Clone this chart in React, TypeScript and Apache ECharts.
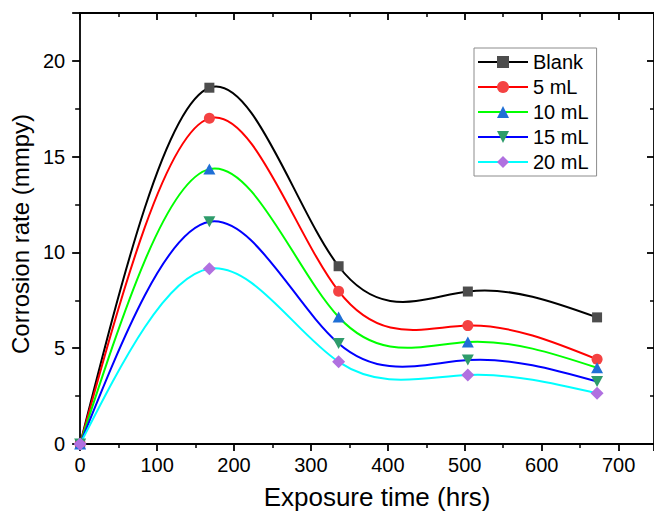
import React, { useEffect, useRef } from "react";
import * as echarts from "echarts";

// ---- data ----
const hours = [0, 168, 336, 504, 672];
const seriesNames = ["Blank", "5 mL", "10 mL", "15 mL", "20 mL"];
const blankRate = [0, 18.6, 9.28, 7.96, 6.61];
const rate5mL = [0, 17.0, 7.98, 6.18, 4.42];
const rate10mL = [0, 14.35, 6.63, 5.33, 3.98];
const rate15mL = [0, 11.6, 5.25, 4.38, 3.26];
const rate20mL = [0, 9.15, 4.29, 3.6, 2.65];
const xTickValues = [0, 100, 200, 300, 400, 500, 600, 700];
const yTickValues = [0, 5, 10, 15, 20];

// ---- styles ----
const lineColors = ["#000000", "#ff0000", "#00ff00", "#0000ff", "#00ffff"];
const markerColors = ["#4d4d4d", "#f44242", "#1f6fd6", "#2e9c6b", "#b070e0"];
const markerSymbols = ["rect", "circle", "triangle", "triangle", "diamond"];
const markerSizes: any[] = [10, 11, [12, 11], [12, 11], 13];
const markerRotates = [0, 0, 0, 180, 0];
const FONT = "'Liberation Sans', Arial, sans-serif";

const allRates = [blankRate, rate5mL, rate10mL, rate15mL, rate20mL];

// natural cubic spline slopes at the knots (used to draw the curve as bezier segments)
function splineSlopes(xs: number[], ys: number[]): number[] {
  const n = xs.length;
  const h: number[] = [];
  for (let i = 0; i < n - 1; i++) h.push(xs[i + 1] - xs[i]);
  const a = new Array(n).fill(0);
  const b = new Array(n).fill(0);
  const c = new Array(n).fill(0);
  const d = new Array(n).fill(0);
  b[0] = 1;
  b[n - 1] = 1;
  for (let i = 1; i < n - 1; i++) {
    a[i] = h[i - 1];
    b[i] = 2 * (h[i - 1] + h[i]);
    c[i] = h[i];
    d[i] = 6 * ((ys[i + 1] - ys[i]) / h[i] - (ys[i] - ys[i - 1]) / h[i - 1]);
  }
  for (let i = 1; i < n; i++) {
    const w = a[i] / b[i - 1];
    b[i] -= w * c[i - 1];
    d[i] -= w * d[i - 1];
  }
  const M = new Array(n).fill(0);
  M[n - 1] = d[n - 1] / b[n - 1];
  for (let i = n - 2; i >= 0; i--) M[i] = (d[i] - c[i] * M[i + 1]) / b[i];
  const s: number[] = [];
  for (let i = 0; i < n - 1; i++) {
    s.push((ys[i + 1] - ys[i]) / h[i] - (h[i] * (2 * M[i] + M[i + 1])) / 6);
  }
  s.push((ys[n - 1] - ys[n - 2]) / h[n - 2] + (h[n - 2] * (M[n - 2] + 2 * M[n - 1])) / 6);
  return s;
}

export default function App() {
  const ref = useRef<HTMLDivElement>(null);

  useEffect(() => {
    if (!ref.current) return;
    const chart = echarts.init(ref.current, undefined, { renderer: "svg" });

    const markerSeries = seriesNames.map((name, k) => ({
      type: "line",
      name,
      xAxisIndex: 0,
      yAxisIndex: 0,
      data: hours.map((h, i) => [h, allRates[k][i]]),
      symbol: markerSymbols[k],
      symbolSize: markerSizes[k],
      symbolRotate: markerRotates[k],
      showSymbol: true,
      itemStyle: { color: markerColors[k], opacity: 1 },
      lineStyle: { color: lineColors[k], width: 2, opacity: 0 },
      z: 4,
      emphasis: { disabled: true },
    }));

    const curveSeries = seriesNames.map((name, k) => {
      const ys = allRates[k];
      const slopes = splineSlopes(hours, ys);
      return {
        type: "custom",
        name,
        xAxisIndex: 0,
        yAxisIndex: 0,
        data: hours.map((h, i) => [h, ys[i]]),
        encode: { x: 0, y: 1 },
        z: 2,
        renderItem: (params: any, api: any) => {
          const i = params.dataIndex;
          if (i >= hours.length - 1) return { type: "group", children: [] };
          const x0 = hours[i];
          const x1 = hours[i + 1];
          const hh = x1 - x0;
          const p0 = api.coord([x0, ys[i]]);
          const p1 = api.coord([x1, ys[i + 1]]);
          const c1 = api.coord([x0 + hh / 3, ys[i] + (slopes[i] * hh) / 3]);
          const c2 = api.coord([x1 - hh / 3, ys[i + 1] - (slopes[i + 1] * hh) / 3]);
          return {
            type: "bezierCurve",
            shape: {
              x1: p0[0], y1: p0[1], x2: p1[0], y2: p1[1],
              cpx1: c1[0], cpy1: c1[1], cpx2: c2[0], cpy2: c2[1],
            },
            style: { stroke: lineColors[k], lineWidth: 2, fill: "none" },
          };
        },
      };
    });

    const axisLine = { show: true, onZero: false, lineStyle: { color: "#000", width: 1.8 } };
    const labelStyle = { fontSize: 20, color: "#000", fontFamily: FONT };

    chart.setOption({
      animation: false,
      backgroundColor: "#fff",
      grid: { left: 79, top: 13, width: 579, height: 433, containLabel: false },
      legend: {
        data: seriesNames,
        orient: "vertical",
        left: 474,
        top: 48,
        itemWidth: 50,
        itemHeight: 15,
        itemGap: 5,
        padding: [4, 8, 4, 3],
        borderColor: "#8c8c8c",
        borderWidth: 1,
        backgroundColor: "#fff",
        textStyle: { fontSize: 20, color: "#000", fontFamily: FONT, lineHeight: 20 },
        lineStyle: { opacity: 1, width: 2 },
        itemStyle: { opacity: 1 },
      },
      xAxis: [
        {
          type: "value",
          position: "bottom",
          min: xTickValues[0],
          max: 746,
          interval: xTickValues[1] - xTickValues[0],
          axisLine,
          axisTick: { show: true, inside: false, length: 7, lineStyle: { color: "#000", width: 1.8 } },
          minorTick: { show: true, splitNumber: 2, length: 4, lineStyle: { color: "#000", width: 1.5 } },
          axisLabel: { ...labelStyle, margin: 11, showMaxLabel: false },
          splitLine: { show: false },
          name: "Exposure time (hrs)",
          nameLocation: "middle",
          nameGap: 40,
          nameTextStyle: { fontSize: 26, color: "#000", fontFamily: FONT, padding: [0, 0, 0, 20] },
        },
        {
          type: "value",
          position: "top",
          min: xTickValues[0],
          max: 746,
          interval: xTickValues[1] - xTickValues[0],
          axisLine,
          axisTick: { show: true, inside: true, length: 7, lineStyle: { color: "#000", width: 1.8 } },
          minorTick: { show: true, splitNumber: 2, length: 4, lineStyle: { color: "#000", width: 1.5 } },
          axisLabel: { show: false },
          splitLine: { show: false },
        },
      ],
      yAxis: [
        {
          type: "value",
          position: "left",
          min: yTickValues[0],
          max: 22.5,
          interval: yTickValues[1] - yTickValues[0],
          axisLine,
          axisTick: { show: true, inside: false, length: 8, lineStyle: { color: "#000", width: 1.8 } },
          minorTick: { show: true, splitNumber: 2, length: 5, lineStyle: { color: "#000", width: 1.5 } },
          axisLabel: { ...labelStyle, margin: 15, showMaxLabel: false },
          splitLine: { show: false },
          name: "Corrosion rate (mmpy)",
          nameLocation: "middle",
          nameGap: 41,
          nameTextStyle: { fontSize: 24, color: "#000", fontFamily: FONT, padding: [0, 11, 0, 0] },
        },
        {
          type: "value",
          position: "right",
          min: yTickValues[0],
          max: 22.5,
          interval: yTickValues[1] - yTickValues[0],
          axisLine,
          axisTick: { show: true, inside: true, length: 7, lineStyle: { color: "#000", width: 1.8 } },
          minorTick: { show: true, splitNumber: 2, length: 4, lineStyle: { color: "#000", width: 1.5 } },
          axisLabel: { show: false },
          splitLine: { show: false },
        },
      ],
      series: [...markerSeries, ...curveSeries],
    });

    return () => chart.dispose();
  }, []);

  return (
    <div
      ref={ref}
      style={{ position: "fixed", left: 0, top: 0, width: 654, height: 515 }}
    />
  );
}
